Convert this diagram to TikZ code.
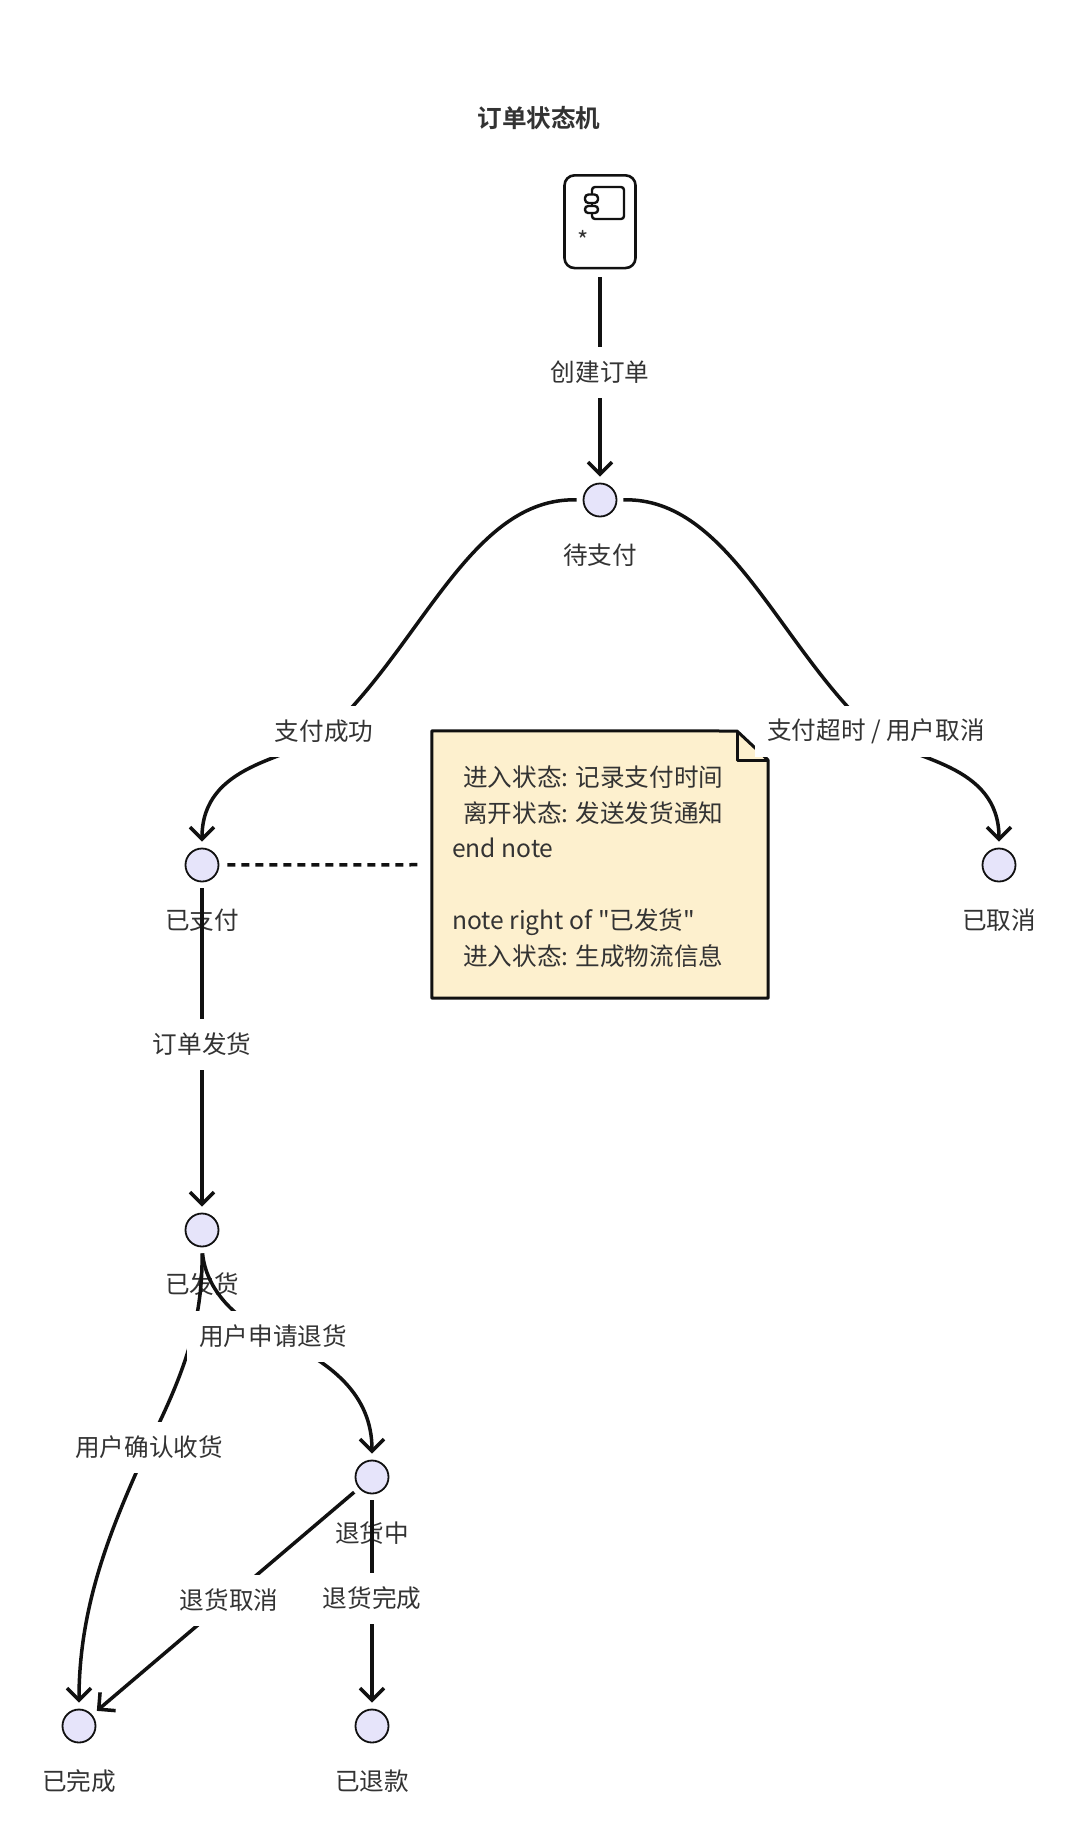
\documentclass[tikz,border=0pt]{standalone}
\usepackage{fontspec}
\setmainfont{Noto Sans CJK SC}
\newfontfamily\plaincjk{Noto Sans CJK SC}
\newfontfamily\boldcjk{Noto Sans CJK SC Bold}
\usetikzlibrary{arrows.meta}
\definecolor{statefill}{HTML}{E6E4FA}
\definecolor{notefill}{HTML}{FDF0CE}
\definecolor{ink}{HTML}{111111}
\definecolor{txt}{HTML}{333333}
\tikzset{
  statecirc/.style={circle,draw=ink,line width=1.8pt,fill=statefill,minimum size=33pt,inner sep=0pt},
  statelab/.style={text=txt,font=\fontsize{24.6}{30}\selectfont,inner sep=0pt},
  edgelab/.style={text=txt,font=\fontsize{24.6}{30}\selectfont,fill=white,inner xsep=12pt,inner ysep=0pt,minimum height=51pt},
  edge/.style={draw=ink,line width=3.5pt,shorten <=6pt},
  arrowed/.style={edge,-{Straight Barb[length=12pt,width=24pt,line width=3.5pt]},shorten >=6pt},
}
\begin{document}
\begin{tikzpicture}[x=1pt,y=-1pt]
\useasboundingbox[fill=white] (0,0) rectangle (1080,1840);
% title
\node[text=txt,font=\boldcjk\fontsize{24.6}{30}\selectfont,inner sep=0pt] (title) at (539,118.5) {订单状态机};
% start box
\node[draw=ink,line width=2.6pt,rounded corners=10pt,minimum width=71pt,minimum height=92.7pt,inner sep=0pt] (start) at (600,221.7) {};
\draw[ink,line width=2.4pt,rounded corners=3pt] (592,187) rectangle (624,219);
\draw[ink,line width=2.4pt,fill=white,rounded corners=3.5pt] (585,194.5) rectangle (598,203);
\draw[ink,line width=2.4pt,fill=white,rounded corners=3.2pt] (585,206) rectangle (598,213);
\node[text=txt,font=\fontsize{24}{26}\selectfont,inner sep=0pt] (star) at (583,240) {*};
% states
\node[statecirc] (pending) at (600,500) {};
\node[statecirc] (paid) at (202,865) {};
\node[statecirc] (cancelled) at (999,865) {};
\node[statecirc] (shipped) at (202,1230) {};
\node[statecirc] (returning) at (372,1477) {};
\node[statecirc] (done) at (79,1726) {};
\node[statecirc] (refunded) at (372,1726) {};
\node[statelab] (lpending) at (600,555) {待支付};
\node[statelab] (lpaid) at (202,920) {已支付};
\node[statelab] (lcancelled) at (999,920.5) {已取消};
\node[statelab] (lshipped) at (202,1284.5) {已发货};
\node[statelab] (lreturning) at (372,1533) {退货中};
\node[statelab] (ldone) at (79,1781) {已完成};
\node[statelab] (lrefunded) at (372,1781) {已退款};
% note
\node[minimum width=336pt,minimum height=267pt,inner sep=0pt] (note) at (600,864.5) {};
\draw[ink,line width=3pt,fill=notefill,line join=round]
  (note.north west) -- (737,731) -- (768,760) -- (note.south east) -- (note.south west) -- cycle;
\draw[ink,line width=3pt,line join=round] (737,731) -- (737,760) -- (768,760);
\node[text=txt,align=left,anchor=west,inner sep=0pt,font=\plaincjk\fontsize{24.6}{35.8}\selectfont] (notetext) at (452,866.5)
  {\hspace*{11pt}进入状态: 记录支付时间\\ \hspace*{11pt}离开状态: 发送发货通知\\ end note\\ \mbox{}\\ note right of "已发货"\\ \hspace*{11pt}进入状态: 生成物流信息};
% edges
\draw[arrowed,shorten <=8pt] (start) -- (pending);
\draw[arrowed] (pending.west) .. controls (470,497) and (420,650) .. (324,735)
   .. controls (290,760) and (202,763) .. (paid.north);
\draw[arrowed] (pending.east) .. controls (730,497) and (780,650) .. (876,735)
   .. controls (910,760) and (999,763) .. (cancelled.north);
\draw[edge,dash pattern=on 8pt off 6pt,shorten <=8pt,shorten >=13pt] (paid) -- (note);
\draw[arrowed] (paid) -- (shipped);
\draw[arrowed] (shipped.south) .. controls (203,1330) and (178,1385) .. (148,1446)
   .. controls (115,1520) and (79,1600) .. (done.north);
\draw[arrowed] (shipped.south) .. controls (206,1290) and (236,1320) .. (273,1336)
   .. controls (332,1362) and (372,1395) .. (returning.north);
\draw[arrowed] (returning) -- (done);
\draw[arrowed] (returning) -- (refunded);
% edge labels
\node[edgelab] (e1) at (600,372.5) {创建订单};
\node[edgelab] (e2) at (324,731.5) {支付成功};
\node[edgelab] (e3) at (876,731.5) {支付超时 / 用户取消};
\node[edgelab] (e4) at (202,1044) {订单发货};
\node[edgelab] (e5) at (149,1447) {用户确认收货};
\node[edgelab] (e6) at (273,1336) {用户申请退货};
\node[edgelab] (e7) at (229,1600) {退货取消};
\node[edgelab] (e8) at (372,1598.5) {退货完成};
\end{tikzpicture}
\end{document}
